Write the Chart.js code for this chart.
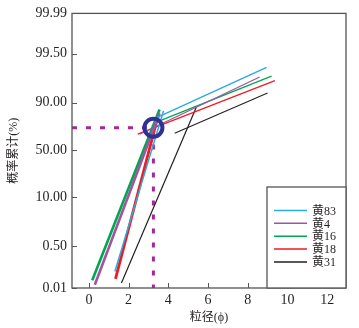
<!DOCTYPE html>
<html>
<head>
<meta charset="utf-8">
<script src="https://cdn.jsdelivr.net/npm/chart.js@4.4.1/dist/chart.umd.min.js"></script>
<style>
  html, body { margin: 0; padding: 0; background: #fff; }
  #wrap { width: 359px; height: 328px; }
</style>
</head>
<body>
<div id="wrap"><canvas id="chart" width="359" height="328"></canvas></div>
<script>
// ── data ──────────────────────────────────────────────────────────────────────
const seriesNames = ["黄83", "黄4", "黄16", "黄18", "黄31"];
const seriesColours = ["#29abe2", "#a0559e", "#00a651", "#ed1c24", "#231f20"];
const steepWidths = [1.5, 2.6, 2.6, 2.8, 1.2];

// steep (coarse) segment: start → end
const steepStartX = [1.31, 0.30, 0.17, 1.34, 1.64];
const steepStartY = [0.36, 0.07, 0.17, 0.20, 0.11];
const steepEndX   = [3.76, 3.56, 3.56, 3.51, 5.42];
const steepEndY   = [3.87, 3.82, 3.90, 3.80, 3.96];

// shallow (fine) segment: start → end
const flatStartX = [3.36, 2.56, 3.31, 2.46, 4.32];
const flatStartY = [3.71, 3.36, 3.61, 3.36, 3.38];
const flatEndX   = [8.95, 8.60, 9.20, 9.37, 9.00];
const flatEndY   = [4.82, 4.61, 4.63, 4.53, 4.26];

// reference point (circled) and its guide lines
const markX = 3.25;
const markY = 3.50;

// probability axis: tick positions and their labels
const yTickPos    = [0, 0.907, 1.98, 3.01, 4.05, 5.12, 6];
const yTickLabels = ["0.01", "0.50", "10.00", "50.00", "90.00", "99.50", "99.99"];
const xTicks      = [0, 2, 4, 6, 8, 10, 12];

const FONT = "'Liberation Serif', 'Times New Roman', 'Noto Sans CJK SC', serif";
const INK = "#231f20";
const FRAME = "#555";

// ── datasets ─────────────────────────────────────────────────────────────────
const lineSets = seriesNames.map((name, i) => ({
  label: name,
  data: [
    { x: steepStartX[i], y: steepStartY[i] },
    { x: steepEndX[i], y: steepEndY[i] },
    { x: steepEndX[i], y: null },
    { x: flatStartX[i], y: flatStartY[i] },
    { x: flatEndX[i], y: flatEndY[i] },
  ],
  borderColor: seriesColours[i],
  backgroundColor: seriesColours[i],
  borderWidth: 1.3,
  showLine: true,
  spanGaps: false,
  pointRadius: 0,
  segment: {
    borderWidth: (ctx) => (ctx.p0DataIndex === 0 ? steepWidths[i] : (i === 4 ? 1.1 : 1.3)),
  },
  inLegend: true,
}));

const guideSet = {
  label: "guide",
  data: [
    { x: -0.85, y: markY },
    { x: markX, y: markY },
    { x: markX, y: 0 },
  ],
  borderColor: "#a4279b",
  borderWidth: 3,
  borderDash: [5, 9],
  showLine: true,
  pointRadius: 0,
  order: 10,
};

const markSet = {
  label: "mark",
  data: [{ x: markX, y: markY }],
  pointRadius: 9,
  pointBorderWidth: 4,
  pointBorderColor: "#2e3192",
  pointBackgroundColor: "rgba(0,0,0,0)",
  showLine: false,
  order: -1,
};

// ── plugins: inward ticks, frame, boxed legend ───────────────────────────────
const frameAndTicks = {
  id: "frameAndTicks",
  afterDatasetsDraw(chart) {
    const { ctx, chartArea: a, scales } = chart;
    ctx.save();
    ctx.strokeStyle = FRAME;
    ctx.lineWidth = 1.3;
    ctx.strokeRect(a.left, a.top, a.right - a.left, a.bottom - a.top);
    ctx.lineWidth = 1;
    ctx.beginPath();
    scales.y.ticks.forEach((t) => {
      const py = Math.round(scales.y.getPixelForValue(t.value)) + 0.5;
      ctx.moveTo(a.left, py);
      ctx.lineTo(a.left + 5, py);
    });
    scales.x.ticks.forEach((t) => {
      const px = Math.round(scales.x.getPixelForValue(t.value)) + 0.5;
      ctx.moveTo(px, a.bottom);
      ctx.lineTo(px, a.bottom - 5);
    });
    ctx.stroke();
    ctx.restore();
  },
};

const boxLegend = {
  id: "boxLegend",
  afterDraw(chart) {
    const { ctx, chartArea: a } = chart;
    const left = a.right - 79;
    const top = a.bottom - 101;
    ctx.save();
    ctx.fillStyle = "#fff";
    ctx.fillRect(left, top, a.right - left, a.bottom - top);
    ctx.strokeStyle = FRAME;
    ctx.lineWidth = 1.3;
    ctx.strokeRect(left, top, a.right - left, a.bottom - top);
    ctx.font = "12px " + FONT;
    ctx.textBaseline = "middle";
    ctx.textAlign = "left";
    let row = 0;
    chart.data.datasets.forEach((ds) => {
      if (!ds.inLegend) return;
      const y = top + 23.5 + row * 12.85;
      ctx.strokeStyle = ds.borderColor;
      ctx.lineWidth = 1.5;
      ctx.beginPath();
      ctx.moveTo(left + 7, y);
      ctx.lineTo(left + 40, y);
      ctx.stroke();
      ctx.fillStyle = INK;
      ctx.fillText(ds.label, left + 45, y + 1);
      row++;
    });
    ctx.restore();
  },
};

// ── chart ────────────────────────────────────────────────────────────────────
new Chart(document.getElementById("chart").getContext("2d"), {
  type: "scatter",
  data: { datasets: [markSet, ...lineSets, guideSet] },
  options: {
    responsive: false,
    animation: false,
    events: [],
    layout: { padding: { top: 13, right: 12, bottom: 0, left: 0 } },
    plugins: { legend: { display: false }, tooltip: { enabled: false } },
    scales: {
      x: {
        type: "linear",
        min: -0.85,
        max: 12.95,
        afterBuildTicks: (s) => { s.ticks = xTicks.map((v) => ({ value: v })); },
        afterFit: (s) => { s.height = 40; },
        grid: { drawOnChartArea: false, drawTicks: false },
        border: { display: false },
        ticks: { color: INK, padding: 4, font: { family: FONT, size: 14 } },
        title: {
          display: true,
          text: "粒径(ϕ)",
          color: INK,
          padding: { top: 0, bottom: 3 },
          font: { family: FONT, size: 12 },
        },
      },
      y: {
        type: "linear",
        min: 0,
        max: 6,
        afterBuildTicks: (s) => { s.ticks = yTickPos.map((v) => ({ value: v })); },
        afterFit: (s) => { s.width = 72; },
        grid: { drawOnChartArea: false, drawTicks: false },
        border: { display: false },
        ticks: {
          color: INK,
          padding: 5,
          font: { family: FONT, size: 14 },
          callback: (v, i) => yTickLabels[i],
        },
        title: {
          display: true,
          text: "概率累计(%)",
          color: INK,
          padding: { top: 7, bottom: 0 },
          font: { family: FONT, size: 12 },
        },
      },
    },
  },
  plugins: [frameAndTicks, boxLegend],
});
</script>
</body>
</html>
